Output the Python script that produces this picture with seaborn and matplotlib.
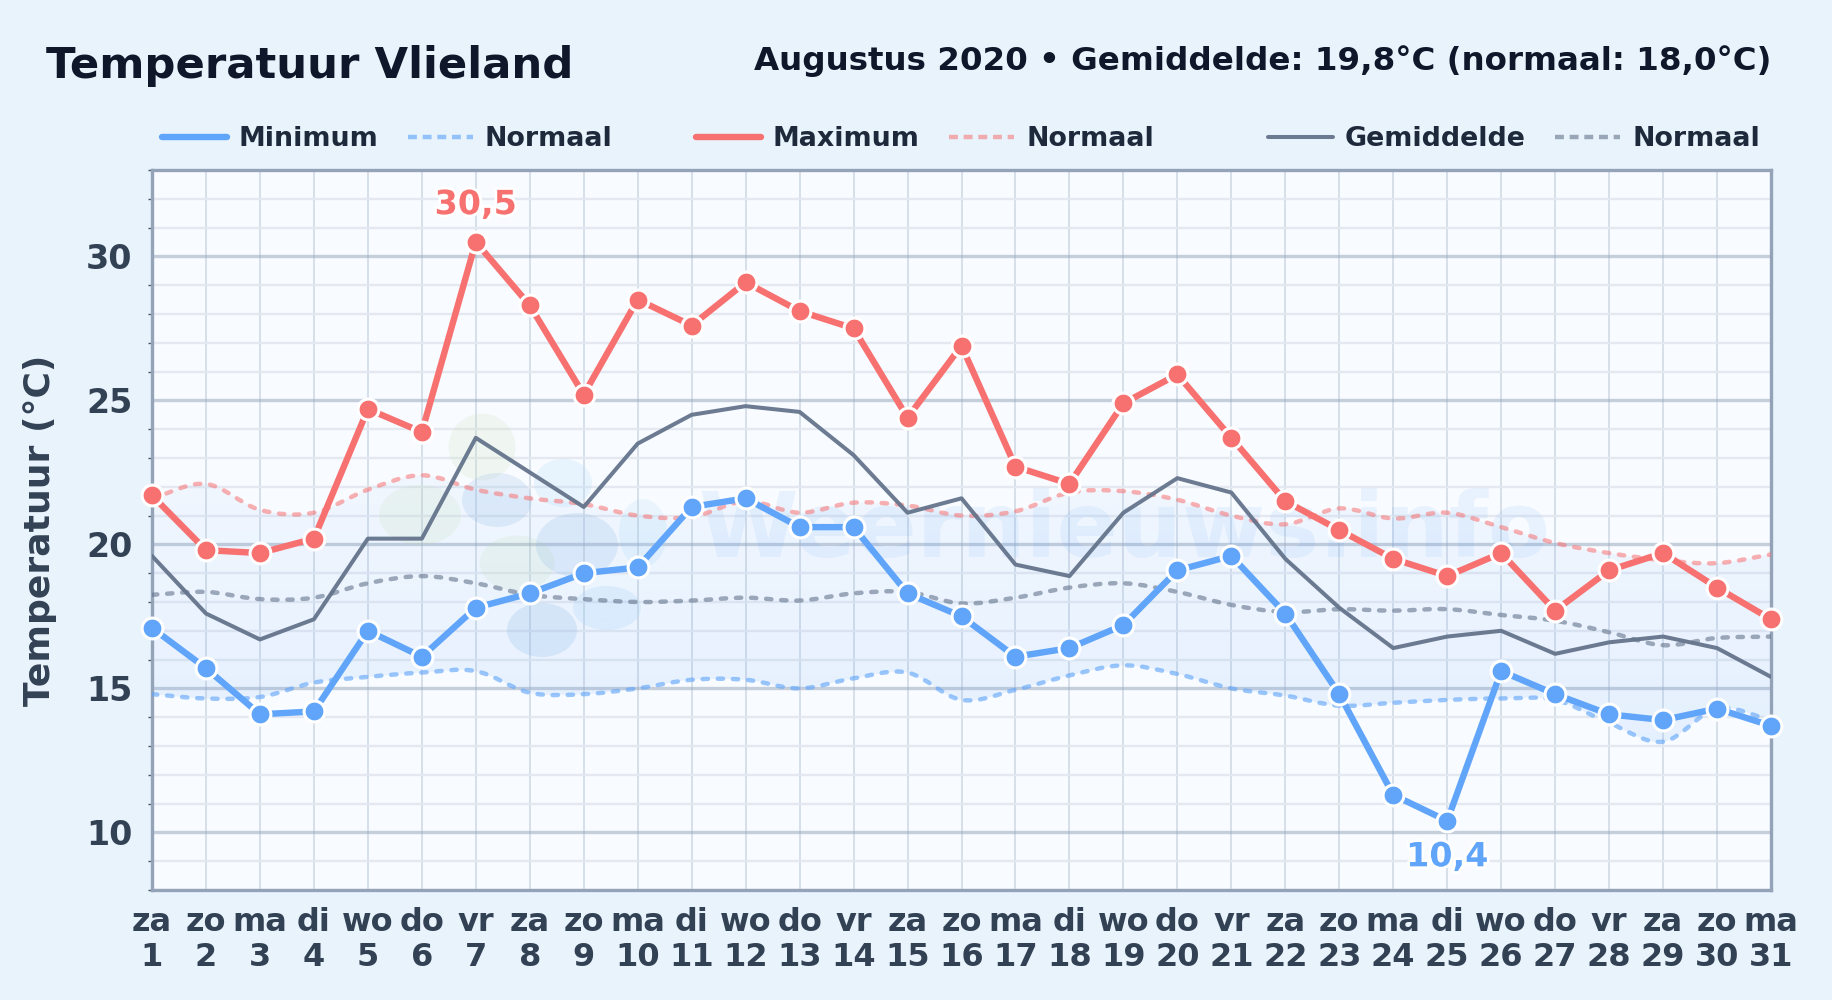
import numpy as np
import pandas as pd
import matplotlib
matplotlib.use("Agg")
import matplotlib.pyplot as plt
from matplotlib.lines import Line2D
from matplotlib.patches import Ellipse, PathPatch
from matplotlib.path import Path
from matplotlib.ticker import MultipleLocator
from matplotlib.colors import to_rgb
import matplotlib.patheffects as pe
import seaborn as sns

days = list(range(1, 32))
weekdays = ["za","zo","ma","di","wo","do","vr"] * 4 + ["za","zo","ma"]
t_min = [17.1,15.7,14.1,14.2,17.0,16.1,17.8,18.3,19.0,19.2,21.3,21.6,20.6,20.6,18.3,17.5,16.1,16.4,17.2,19.1,19.6,17.6,14.8,11.3,10.4,15.6,14.8,14.1,13.9,14.3,13.7]
t_max = [21.7,19.8,19.7,20.2,24.7,23.9,30.5,28.3,25.2,28.5,27.6,29.1,28.1,27.5,24.4,26.9,22.7,22.1,24.9,25.9,23.7,21.5,20.5,19.5,18.9,19.7,17.7,19.1,19.7,18.5,17.4]
t_mean = [19.6,17.6,16.7,17.4,20.2,20.2,23.7,22.5,21.3,23.5,24.5,24.8,24.6,23.1,21.1,21.6,19.3,18.9,21.1,22.3,21.8,19.5,17.8,16.4,16.8,17.0,16.2,16.6,16.8,16.4,15.4]
norm_min = [14.8,14.65,14.7,15.2,15.4,15.55,15.6,14.85,14.8,15.0,15.3,15.3,15.0,15.35,15.55,14.6,14.95,15.45,15.8,15.5,15.0,14.75,14.4,14.5,14.6,14.65,14.6,13.8,13.15,14.3,13.9]
norm_max = [21.6,22.1,21.2,21.1,21.9,22.4,21.9,21.6,21.4,21.0,20.95,21.5,21.1,21.45,21.35,21.0,21.15,21.8,21.85,21.55,21.0,20.7,21.25,20.9,21.1,20.6,20.05,19.7,19.45,19.35,19.65]
norm_mean = [18.25,18.35,18.1,18.15,18.65,18.9,18.65,18.25,18.1,18.0,18.05,18.15,18.05,18.3,18.35,17.95,18.15,18.5,18.65,18.35,17.9,17.65,17.75,17.7,17.75,17.55,17.35,16.95,16.5,16.75,16.8]

BLUE, RED, SLATE = "#60a5fa", "#f87171", "#64748b"
W, H = 1832, 1000
L, R, T, B = 152, 1771, 170, 890

sns.set_theme(style="white")
plt.rcParams["font.family"] = ["DejaVu Sans"]
plt.rcParams["font.weight"] = "bold"

fig = plt.figure(figsize=(W/100, H/100), dpi=100, facecolor="#e8f3fc")
ax = fig.add_axes([L/W, 1-B/H, (R-L)/W, (B-T)/H])
ax.set_facecolor("#f8fbff")

def px(x, y):
    return ((x-L)/(R-L), (B-y)/(B-T))

# faint watermark logo and text
GREEN, DARK, LIGHT = "#c6dfa8", "#8db8e2", "#a5d6f7"
for cx, cy, w, h, c, a in [(482,447,67,67,GREEN,.16),(420,515,82,60,GREEN,.16),(517,563,75,55,GREEN,.16),
                           (497,500,70,54,DARK,.20),(577,545,82,64,DARK,.20),(563,483,58,48,LIGHT,.20),
                           (643,533,48,68,LIGHT,.18),(542,630,70,54,DARK,.22),(607,608,68,44,LIGHT,.22)]:
    ax.add_patch(Ellipse(px(cx, cy), w/(R-L), h/(B-T), transform=ax.transAxes, color=c, alpha=a, lw=0, zorder=1))
ax.text(*px(1124, 532), "Weernieuws.info", transform=ax.transAxes, ha="center", va="center",
        fontsize=65, color="#60a5fa", alpha=.10, zorder=1)

ax.set_xlim(1, 31)
ax.set_ylim(8, 33)
ax.yaxis.set_major_locator(MultipleLocator(5))
ax.yaxis.set_minor_locator(MultipleLocator(1))
ax.set_xticks(days)
ax.set_xticklabels([f"{w}\n{d}" for w, d in zip(weekdays, days)])
ax.set_axisbelow(True)
ax.grid(True, axis="x", color="#cbd5e1", lw=1.3, alpha=.8)
ax.grid(True, axis="y", which="minor", color="#e2e8f0", lw=1.7, alpha=.9)
ax.grid(True, axis="y", which="major", color="#94a3b8", lw=2.4, alpha=.5)
ax.tick_params(axis="y", which="major", labelsize=24, labelcolor="#334155", length=5, width=1.5,
               color="#475569", pad=9, left=False)
ax.tick_params(axis="y", which="minor", length=3, width=1, color="#475569", left=True)
ax.tick_params(axis="x", labelsize=23, labelcolor="#334155", length=0, pad=12)
for lab in ax.get_xticklabels() + ax.get_yticklabels():
    lab.set_fontweight("bold")
for s in ax.spines.values():
    s.set_visible(True)
    s.set_color("#94a3b8")
    s.set_linewidth(2.4)

df = pd.DataFrame(dict(day=days, t_min=t_min, t_max=t_max, t_mean=t_mean,
                       norm_min=norm_min, norm_max=norm_max, norm_mean=norm_mean))

def curve_path(x, y, start=True):
    """Smooth Bezier path running through the data points (Catmull-Rom tangents)."""
    x, y = np.asarray(x, float), np.asarray(y, float)
    dy = np.gradient(y, x)
    v, c = [(x[0], y[0])] if start else [], [Path.MOVETO] if start else []
    for i in range(len(x)-1):
        h = (x[i+1]-x[i])/3
        v += [(x[i]+h, y[i]+dy[i]*h), (x[i+1]-h, y[i+1]-dy[i+1]*h), (x[i+1], y[i+1])]
        c += [Path.CURVE4]*3
    return v, c

# vertical-gradient band between the two smoothed normals
vlo, clo = curve_path(days, norm_min)
vhi, chi = curve_path(days[::-1], norm_max[::-1], start=False)
band = Path(vlo + [(days[-1], norm_max[-1])] + vhi + [vlo[0]],
            clo + [Path.LINETO] + chi + [Path.LINETO])
rgba = np.zeros((256, 1, 4))
rgba[..., :3] = to_rgb(BLUE)
rgba[..., 3] = np.linspace(.05, .125, 256)[:, None]
im = ax.imshow(rgba, extent=(1, 31, 13, 22.5), origin="upper", aspect="auto", zorder=2)
im.set_clip_path(band, transform=ax.transData)
ax.set_xlim(1, 31)
ax.set_ylim(8, 33)

# normals: series placed through seaborn, then drawn as a smooth dashed curve
dash = (0, (1.2, 2.2))
legend_dash = (0, (2.0, 1.3))
NORM_LW = 3.2
for col, c, a in [("norm_min", BLUE, .62), ("norm_max", RED, .55), ("norm_mean", SLATE, .6)]:
    sns.lineplot(data=df, x="day", y=col, ax=ax, color=c, alpha=a, lw=NORM_LW, linestyle=dash, zorder=3, legend=False)
    line = ax.lines[-1]
    line.set_visible(False)
    v, k = curve_path(*line.get_data())
    ax.add_patch(PathPatch(Path(v, k), fc="none", ec=c, alpha=a, lw=NORM_LW, ls=dash, capstyle="round", zorder=3))
sns.lineplot(data=df, x="day", y="t_mean", ax=ax, color=SLATE, alpha=.95, lw=2.9, zorder=4, legend=False)
for col, c in [("t_min", BLUE), ("t_max", RED)]:
    sns.lineplot(data=df, x="day", y=col, ax=ax, color=c, lw=4.6, marker="o", markersize=15,
                 markeredgecolor="white", markeredgewidth=2.2, zorder=5, clip_on=False, legend=False)
ax.set_xlabel("")
ax.set_ylabel("Temperatuur (°C)", fontsize=26, fontweight="bold", color="#334155", labelpad=0)
ax.yaxis.set_label_coords((57-L)/(R-L), .5)

halo = [pe.withStroke(linewidth=4, foreground="white")]
imax, imin = int(np.argmax(t_max)), int(np.argmin(t_min))
ax.annotate(f"{t_max[imax]:.1f}".replace(".", ","), (days[imax], t_max[imax]), xytext=(0, 15), textcoords="offset points",
            ha="center", va="bottom", fontsize=24, fontweight="bold", color=RED, path_effects=halo, zorder=6)
ax.annotate(f"{t_min[imin]:.1f}".replace(".", ","), (days[imin], t_min[imin]), xytext=(0, -14), textcoords="offset points",
            ha="center", va="top", fontsize=24, fontweight="bold", color=BLUE, path_effects=halo, zorder=6)

# three legend groups
def proxies(c, lw, a, main):
    return [Line2D([], [], color=c, lw=lw, alpha=main, solid_capstyle="round"),
            Line2D([], [], color=c, lw=NORM_LW, alpha=a, ls=legend_dash, dash_capstyle="butt")]
groups = [(proxies(BLUE, 4.6, .62, 1), ("Minimum", "Normaal"), 162),
          (proxies(RED, 4.6, .55, 1), ("Maximum", "Normaal"), 696),
          (proxies(SLATE, 2.9, .6, .95), ("Gemiddelde", "Normaal"), 1268)]
for hs, labs, x0 in groups:
    fig.legend(hs, labs, ncol=2, loc="center left", bbox_to_anchor=(x0/W, 1-139/H),
               frameon=False, labelcolor="#1e293b", handlelength=2.4, handletextpad=.45,
               columnspacing=1.1, borderpad=0, borderaxespad=0, prop=dict(size=19.4, weight="bold"))

fig.text(46/W, 1-66/H, "Temperatuur Vlieland", fontsize=31.2, fontweight="bold", color="#0f172a", ha="left", va="center")
fig.text(1771/W, 1-61/H, "Augustus 2020 • Gemiddelde: 19,8°C (normaal: 18,0°C)", fontsize=23.4, fontweight="bold",
         color="#0f172a", ha="right", va="center")
fig.savefig("out.png", dpi=100, facecolor=fig.get_facecolor())
